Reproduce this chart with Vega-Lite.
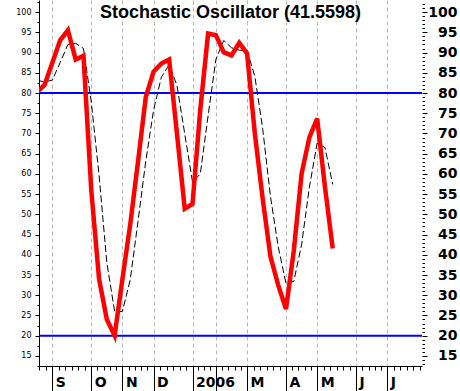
{
  "$schema": "https://vega.github.io/schema/vega-lite/v6.json",
  "autosize": "none",
  "width": 383,
  "height": 366,
  "padding": {"left": 39, "top": 0, "right": 38, "bottom": 25},
  "background": "white",
  "config": {"view": {"stroke": null}},
  "title": {
    "text": "Stochastic Oscillator (41.5598)",
    "font": "Liberation Sans",
    "fontSize": 18,
    "fontWeight": "bold",
    "color": "black",
    "anchor": "middle",
    "frame": "group",
    "baseline": "alphabetic",
    "offset": -39
  },
  "datasets": {
    "k": [
      {"w": -2, "v": 80.2}, {"w": -1, "v": 82}, {"w": 0, "v": 87.5}, {"w": 1, "v": 93}, {"w": 2, "v": 95.5},
      {"w": 3, "v": 88.3}, {"w": 4, "v": 89.2}, {"w": 5, "v": 56}, {"w": 6, "v": 34}, {"w": 7, "v": 24},
      {"w": 8, "v": 20}, {"w": 9, "v": 34}, {"w": 10, "v": 47.5}, {"w": 11, "v": 63}, {"w": 12, "v": 79},
      {"w": 13, "v": 85.3}, {"w": 14, "v": 87.3}, {"w": 15, "v": 88.3}, {"w": 16, "v": 70}, {"w": 17, "v": 51.4},
      {"w": 18, "v": 52.6}, {"w": 19, "v": 76}, {"w": 20, "v": 94.7}, {"w": 21, "v": 94.3}, {"w": 22, "v": 90.1},
      {"w": 23, "v": 89.3}, {"w": 24, "v": 92.4}, {"w": 25, "v": 89.8}, {"w": 26, "v": 70}, {"w": 27, "v": 54},
      {"w": 28, "v": 39.6}, {"w": 29, "v": 32.5}, {"w": 30, "v": 26.6}, {"w": 31, "v": 41}, {"w": 32, "v": 60},
      {"w": 33, "v": 69}, {"w": 34, "v": 73.7}, {"w": 35, "v": 56.8}, {"w": 36, "v": 41.56}
    ],
    "d": [
      {"w": -2, "v": 83.2}, {"w": -1, "v": 82.7}, {"w": 0, "v": 83.2}, {"w": 1, "v": 87.5}, {"w": 2, "v": 92.0},
      {"w": 3, "v": 92.3}, {"w": 4, "v": 91.0}, {"w": 5, "v": 77.8}, {"w": 6, "v": 59.7}, {"w": 7, "v": 38.0},
      {"w": 8, "v": 26.0}, {"w": 9, "v": 26.0}, {"w": 10, "v": 33.8}, {"w": 11, "v": 48.2}, {"w": 12, "v": 63.2},
      {"w": 13, "v": 75.8}, {"w": 14, "v": 83.9}, {"w": 15, "v": 87.0}, {"w": 16, "v": 81.9}, {"w": 17, "v": 69.9},
      {"w": 18, "v": 58.0}, {"w": 19, "v": 60.0}, {"w": 20, "v": 74.4}, {"w": 21, "v": 88.3}, {"w": 22, "v": 93.0},
      {"w": 23, "v": 91.2}, {"w": 24, "v": 90.6}, {"w": 25, "v": 90.5}, {"w": 26, "v": 84.1}, {"w": 27, "v": 71.3},
      {"w": 28, "v": 54.5}, {"w": 29, "v": 42.0}, {"w": 30, "v": 32.9}, {"w": 31, "v": 33.4}, {"w": 32, "v": 42.5},
      {"w": 33, "v": 56.7}, {"w": 34, "v": 67.6}, {"w": 35, "v": 66.5}, {"w": 36, "v": 57.4}
    ],
    "levels": [{"level": 80}, {"level": 20}]
  },
  "resolve": {"axis": {"x": "independent", "y": "independent"}},
  "layer": [
    {
      "data": {"name": "levels"},
      "mark": {"type": "rule", "color": "#0000ff", "strokeWidth": 2},
      "encoding": {
        "y": {"field": "level", "type": "quantitative", "scale": {"domain": [12.5, 103], "nice": false, "zero": false}, "axis": null}
      }
    },
    {
      "data": {"name": "d"},
      "mark": {"type": "line", "color": "black", "strokeWidth": 1, "strokeDash": [7, 3], "clip": true},
      "encoding": {
        "x": {
          "field": "w", "type": "quantitative",
          "scale": {"domain": [-1.71, 47.46], "nice": false, "zero": false},
          "axis": {
            "orient": "bottom",
            "title": null,
            "domain": false,
            "grid": false,
            "labels": false,
            "tickColor": "black",
            "tickSize": 4,
            "values": [-1.667, -0.833, 0.833, 1.667, 2.5, 3.333, 4.167, 5.8, 6.6, 7.4, 8.2, 9.8, 10.6, 11.4, 12.2, 13.833, 14.667, 15.5, 16.333, 17.167, 18.75, 19.5, 20.25, 21.8, 22.6, 23.4, 24.2, 25.833, 26.667, 27.5, 28.333, 29.167, 30.8, 31.6, 32.4, 33.2, 34.833, 35.667, 36.5, 37.333, 38.167, 39.8, 40.6, 41.4, 42.2, 43.833, 44.667, 45.5, 46.333, 47.167]
          }
        },
        "y": {
          "field": "v", "type": "quantitative",
          "scale": {"domain": [12.5, 103], "nice": false, "zero": false},
          "axis": {
            "orient": "right",
            "title": null,
            "domain": false,
            "grid": false,
            "tickColor": "black",
            "tickSize": {"condition": {"test": "datum.value % 5 === 0", "value": 5}, "value": 2.5},
            "labelFont": "DejaVu Sans",
            "labelFontWeight": "bold",
            "labelFontSize": 14,
            "labelColor": "black",
            "labelAlign": "right",
            "labelPadding": 30,
            "labelOverlap": false,
            "labelFlush": false,
            "labelBound": false,
            "values": [13,14,15,16,17,18,19,20,21,22,23,24,25,26,27,28,29,30,31,32,33,34,35,36,37,38,39,40,41,42,43,44,45,46,47,48,49,50,51,52,53,54,55,56,57,58,59,60,61,62,63,64,65,66,67,68,69,70,71,72,73,74,75,76,77,78,79,80,81,82,83,84,85,86,87,88,89,90,91,92,93,94,95,96,97,98,99,100,101,102],
            "labelExpr": "datum.value % 5 === 0 ? datum.value : ''"
          }
        }
      }
    },
    {
      "data": {"name": "k"},
      "mark": {"type": "line", "color": "#ff0000", "strokeWidth": 4.5, "clip": true, "strokeJoin": "miter"},
      "encoding": {
        "x": {
          "field": "w", "type": "quantitative",
          "scale": {"domain": [-1.71, 47.46], "nice": false, "zero": false},
          "axis": {
            "orient": "bottom",
            "title": null,
            "domain": true,
            "domainColor": "black",
            "domainWidth": 1,
            "grid": true,
            "gridColor": "#b8b8b8",
            "gridDash": [4, 3],
            "gridWidth": 1,
            "tickColor": "black",
            "tickSize": 25,
            "labelFont": "DejaVu Sans",
            "labelFontWeight": "bold",
            "labelFontSize": 14,
            "labelColor": "black",
            "labelAlign": "left",
            "labelOffset": 3,
            "labelPadding": -16,
            "labelOverlap": false,
            "labelFlush": false,
            "labelBound": false,
            "values": [0, 5, 9, 13, 18, 21, 25, 30, 34, 39, 43],
            "labelExpr": "['S','O','N','D','2006','','M','A','M','J','J'][indexof([0,5,9,13,18,21,25,30,34,39,43], datum.value)]"
          }
        },
        "y": {
          "field": "v", "type": "quantitative",
          "scale": {"domain": [12.5, 103], "nice": false, "zero": false},
          "axis": {
            "orient": "left",
            "title": null,
            "domain": true,
            "domainColor": "black",
            "grid": false,
            "tickColor": "black",
            "tickSize": {"condition": {"test": "datum.value % 5 === 0", "value": 4}, "value": 2},
            "labelFont": "DejaVu Sans",
            "labelFontSize": 8,
            "labelColor": "black",
            "labelPadding": 4,
            "labelOverlap": false,
            "labelFlush": false,
            "labelBound": false,
            "values": [12.5,15,17.5,20,22.5,25,27.5,30,32.5,35,37.5,40,42.5,45,47.5,50,52.5,55,57.5,60,62.5,65,67.5,70,72.5,75,77.5,80,82.5,85,87.5,90,92.5,95,97.5,100,102.5],
            "labelExpr": "datum.value % 5 === 0 ? datum.value : ''"
          }
        }
      }
    }
  ]
}
